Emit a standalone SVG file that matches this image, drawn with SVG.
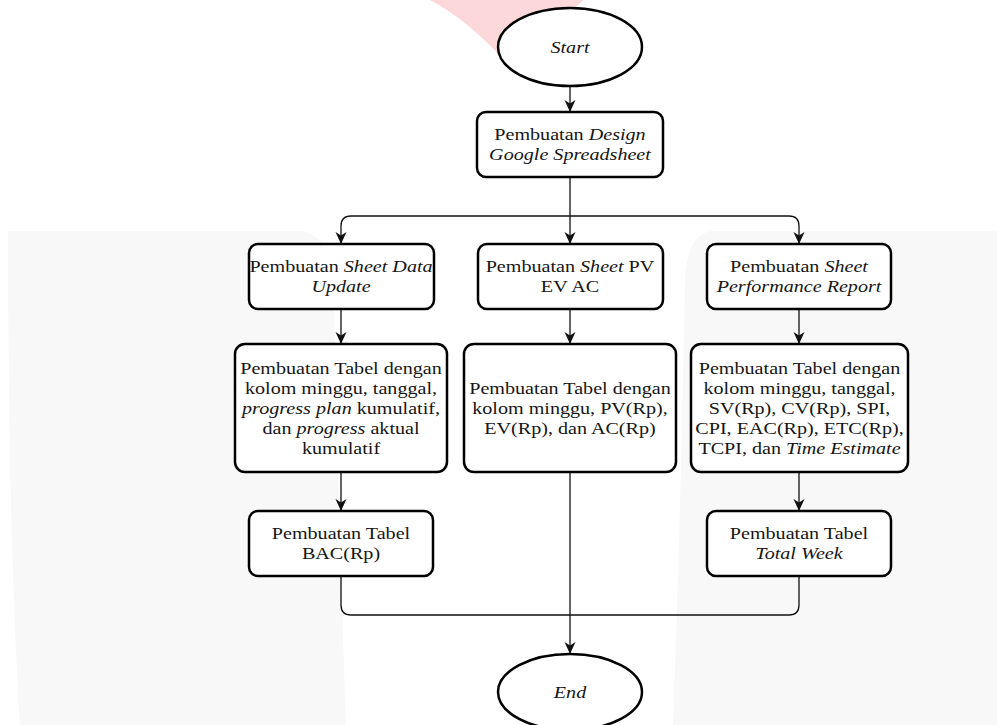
<svg xmlns="http://www.w3.org/2000/svg" width="997" height="725" viewBox="0 0 997 725">
  <defs>
    <style>
      .box { fill: #ffffff; stroke: #000000; stroke-width: 2.5; }
      .conn { fill: none; stroke: #111111; stroke-width: 1.3; }
      .t { font-family: "Liberation Serif", "Times New Roman", serif; font-size: 17.5px; fill: #161616; text-anchor: middle; }
      .i { font-style: italic; }
      .wm-gray { fill: #f8f8f8; }
      .wm-pink { fill: #fdd8db; }
    </style>
    <marker id="arrow" markerUnits="userSpaceOnUse" markerWidth="13" markerHeight="12" refX="12" refY="5.5" orient="auto" viewBox="0 0 13 11">
      <path d="M0,0 L12,5.5 L0,11 L3.5,5.5 Z" fill="#111111"/>
    </marker>
  </defs>

  <rect x="0" y="0" width="997" height="725" fill="#ffffff"/>

  <!-- faint background watermark -->
  <g id="watermark">
    <path class="wm-pink" d="M430,0 Q466,19 502,58 L560,20 L584,0 Z"/>
    <path class="wm-gray" d="M8,231 H300 Q330,234 333,280 C337,420 341,580 346,725 H20 C12,600 8,420 8,231 Z"/>
    <path class="wm-gray" d="M997,231 H712 Q687,234 685,280 C682,440 678,590 673,725 H997 Z"/>
  </g>

  <!-- connectors -->
  <g id="connectors">
    <path class="conn" d="M570,86 V112" marker-end="url(#arrow)"/>
    <path class="conn" d="M570,177 V244" marker-end="url(#arrow)"/>
    <path class="conn" d="M570,216 H351 Q341,216 341,226 V244" marker-end="url(#arrow)"/>
    <path class="conn" d="M570,216 H789 Q799,216 799,226 V244" marker-end="url(#arrow)"/>
    <path class="conn" d="M341,309 V344" marker-end="url(#arrow)"/>
    <path class="conn" d="M570,309 V344" marker-end="url(#arrow)"/>
    <path class="conn" d="M799,309 V344" marker-end="url(#arrow)"/>
    <path class="conn" d="M341,472 V511" marker-end="url(#arrow)"/>
    <path class="conn" d="M799,472 V511" marker-end="url(#arrow)"/>
    <path class="conn" d="M570,472 V654" marker-end="url(#arrow)"/>
    <path class="conn" d="M341,576 V605 Q341,615 351,615 H789 Q799,615 799,605 V576"/>
  </g>

  <!-- nodes -->
  <g id="start">
    <ellipse class="box" cx="570" cy="47" rx="72" ry="39"/>
    <g transform="translate(570 0) scale(1.15 1)">
      <text class="t i" x="0" y="53">Start</text>
    </g>
  </g>

  <g id="design">
    <rect class="box" x="477" y="112" width="186" height="65" rx="9"/>
    <g transform="translate(570 0) scale(1.15 1)">
      <text class="t" x="0" y="140.5">Pembuatan <tspan class="i">Design</tspan></text>
      <text class="t i" x="0" y="160.5">Google Spreadsheet</text>
    </g>
  </g>

  <g id="sheet-data-update">
    <rect class="box" x="249" y="244" width="185" height="65" rx="9"/>
    <g transform="translate(341 0) scale(1.15 1)">
      <text class="t" x="0" y="272.5">Pembuatan <tspan class="i">Sheet Data</tspan></text>
      <text class="t i" x="0" y="292.5">Update</text>
    </g>
  </g>

  <g id="sheet-pv-ev-ac">
    <rect class="box" x="478" y="244" width="185" height="65" rx="9"/>
    <g transform="translate(570 0) scale(1.15 1)">
      <text class="t" x="0" y="272.5">Pembuatan <tspan class="i">Sheet</tspan> PV</text>
      <text class="t" x="0" y="292.5">EV AC</text>
    </g>
  </g>

  <g id="sheet-performance-report">
    <rect class="box" x="707" y="244" width="184" height="65" rx="9"/>
    <g transform="translate(799 0) scale(1.15 1)">
      <text class="t" x="0" y="272.5">Pembuatan <tspan class="i">Sheet</tspan></text>
      <text class="t i" x="0" y="292.5">Performance Report</text>
    </g>
  </g>

  <g id="tabel-progress">
    <rect class="box" x="235" y="344" width="212" height="128" rx="10"/>
    <g transform="translate(341 0) scale(1.15 1)">
      <text class="t" x="0" y="374">Pembuatan Tabel dengan</text>
      <text class="t" x="0" y="394">kolom minggu, tanggal,</text>
      <text class="t" x="0" y="414"><tspan class="i">progress plan</tspan> kumulatif,</text>
      <text class="t" x="0" y="434">dan <tspan class="i">progress</tspan> aktual</text>
      <text class="t" x="0" y="454">kumulatif</text>
    </g>
  </g>

  <g id="tabel-pv-ev-ac">
    <rect class="box" x="464" y="344" width="212" height="128" rx="10"/>
    <g transform="translate(570 0) scale(1.15 1)">
      <text class="t" x="0" y="394">Pembuatan Tabel dengan</text>
      <text class="t" x="0" y="414">kolom minggu, PV(Rp),</text>
      <text class="t" x="0" y="434">EV(Rp), dan AC(Rp)</text>
    </g>
  </g>

  <g id="tabel-performance">
    <rect class="box" x="691" y="344" width="217" height="128" rx="10"/>
    <g transform="translate(799.5 0) scale(1.15 1)">
      <text class="t" x="0" y="374">Pembuatan Tabel dengan</text>
      <text class="t" x="0" y="394">kolom minggu, tanggal,</text>
      <text class="t" x="0" y="414">SV(Rp), CV(Rp), SPI,</text>
      <text class="t" x="0" y="434">CPI, EAC(Rp), ETC(Rp),</text>
      <text class="t" x="0" y="454">TCPI, dan <tspan class="i">Time Estimate</tspan></text>
    </g>
  </g>

  <g id="tabel-bac">
    <rect class="box" x="249" y="511" width="184" height="65" rx="9"/>
    <g transform="translate(341 0) scale(1.15 1)">
      <text class="t" x="0" y="539.5">Pembuatan Tabel</text>
      <text class="t" x="0" y="559.5">BAC(Rp)</text>
    </g>
  </g>

  <g id="tabel-total-week">
    <rect class="box" x="707" y="511" width="184" height="65" rx="9"/>
    <g transform="translate(799 0) scale(1.15 1)">
      <text class="t" x="0" y="539.5">Pembuatan Tabel</text>
      <text class="t i" x="0" y="559.5">Total Week</text>
    </g>
  </g>

  <g id="end">
    <ellipse class="box" cx="570" cy="692" rx="72" ry="38"/>
    <g transform="translate(570 0) scale(1.15 1)">
      <text class="t i" x="0" y="698">End</text>
    </g>
  </g>
</svg>
